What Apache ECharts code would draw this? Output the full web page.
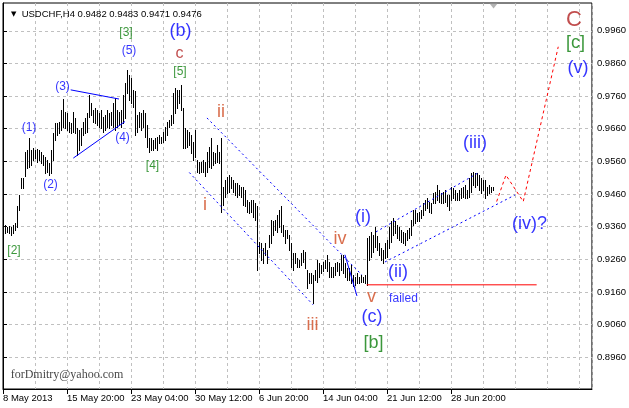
<!DOCTYPE html>
<html><head><meta charset="utf-8">
<script src="https://cdn.jsdelivr.net/npm/echarts@6/dist/echarts.min.js"></script>
<style>html,body{margin:0;padding:0;background:#fff}#c{width:629px;height:408px}</style>
</head><body><div id="c"></div>
<script>
// ---- data ----
const symbolName = 'USDCHF,H4';
const lastOHLC = ['0.9482', '0.9483', '0.9471', '0.9476'];

const highs = [
0.9365,0.9360,0.9363,0.9358,0.9365,0.9371,0.9422,0.9457,0.9508,0.9508,
0.9590,0.9595,0.9631,0.9595,0.9600,0.9595,0.9597,0.9595,0.9590,0.9580,
0.9574,0.9564,0.9554,0.9595,0.9646,0.9677,0.9677,0.9682,0.9717,0.9750,
0.9712,0.9707,0.9682,0.9677,0.9712,0.9692,0.9661,0.9656,0.9661,0.9682,
0.9692,0.9707,0.9763,0.9738,0.9717,0.9723,0.9717,0.9707,0.9717,0.9697,
0.9702,0.9717,0.9707,0.9712,0.9738,0.9753,0.9717,0.9712,0.9717,0.9763,
0.9799,0.9840,0.9825,0.9815,0.9779,0.9774,0.9702,0.9712,0.9707,0.9717,
0.9707,0.9671,0.9631,0.9631,0.9626,0.9631,0.9636,0.9641,0.9636,0.9651,
0.9666,0.9682,0.9687,0.9702,0.9769,0.9784,0.9779,0.9779,0.9794,0.9723,
0.9661,0.9656,0.9651,0.9641,0.9620,0.9656,0.9564,0.9559,0.9559,0.9564,
0.9559,0.9590,0.9605,0.9631,0.9590,0.9585,0.9610,0.9590,0.9631,0.9483,
0.9503,0.9513,0.9518,0.9513,0.9503,0.9493,0.9493,0.9488,0.9483,0.9483,
0.9473,0.9442,0.9437,0.9442,0.9442,0.9432,0.9422,0.9314,0.9309,0.9294,
0.9309,0.9289,0.9335,0.9381,0.9376,0.9381,0.9396,0.9411,0.9422,0.9365,
0.9350,0.9350,0.9335,0.9309,0.9279,0.9279,0.9263,0.9258,0.9279,0.9289,
0.9284,0.9228,0.9218,0.9218,0.9212,0.9228,0.9258,0.9248,0.9243,0.9253,
0.9258,0.9274,0.9253,0.9238,0.9238,0.9248,0.9253,0.9248,0.9274,0.9274,
0.9248,0.9233,0.9233,0.9243,0.9212,0.9207,0.9218,0.9207,0.9212,0.9207,0.9212,
0.9324,0.9330,0.9345,0.9335,0.9360,0.9330,0.9309,0.9294,0.9289,0.9309,
0.9319,0.9360,0.9376,0.9386,0.9376,0.9365,0.9360,0.9350,0.9345,0.9340,
0.9350,0.9355,0.9381,0.9411,0.9411,0.9401,0.9406,0.9411,0.9432,0.9442,
0.9447,0.9437,0.9432,0.9462,0.9467,0.9488,0.9473,0.9462,0.9467,0.9473,
0.9457,0.9457,0.9483,0.9478,0.9473,0.9462,0.9473,0.9478,0.9483,0.9488,
0.9473,0.9508,0.9524,0.9529,0.9524,0.9524,0.9518,0.9508,0.9503,0.9503,0.9483,0.9488,0.9483,0.9483
];
const lows = [
0.9340,0.9345,0.9340,0.9335,0.9340,0.9350,0.9360,0.9411,0.9478,0.9478,
0.9514,0.9539,0.9544,0.9549,0.9564,0.9569,0.9559,0.9564,0.9554,0.9549,
0.9524,0.9529,0.9518,0.9524,0.9564,0.9626,0.9641,0.9646,0.9656,0.9666,
0.9661,0.9656,0.9651,0.9646,0.9651,0.9646,0.9580,0.9595,0.9610,0.9641,
0.9646,0.9651,0.9697,0.9702,0.9682,0.9677,0.9671,0.9666,0.9661,0.9651,
0.9656,0.9666,0.9661,0.9671,0.9666,0.9656,0.9666,0.9671,0.9666,0.9677,
0.9692,0.9769,0.9748,0.9738,0.9728,0.9641,0.9651,0.9666,0.9656,0.9666,
0.9636,0.9605,0.9590,0.9595,0.9595,0.9600,0.9595,0.9615,0.9615,0.9620,
0.9626,0.9641,0.9666,0.9671,0.9677,0.9707,0.9723,0.9738,0.9717,0.9600,
0.9600,0.9605,0.9610,0.9585,0.9564,0.9574,0.9529,0.9524,0.9529,0.9529,
0.9514,0.9529,0.9544,0.9539,0.9549,0.9554,0.9559,0.9554,0.9406,0.9427,
0.9452,0.9462,0.9467,0.9478,0.9467,0.9457,0.9452,0.9457,0.9452,0.9427,
0.9422,0.9406,0.9401,0.9406,0.9391,0.9381,0.9228,0.9279,0.9258,0.9248,
0.9274,0.9248,0.9299,0.9309,0.9335,0.9350,0.9345,0.9360,0.9345,0.9330,
0.9309,0.9324,0.9289,0.9238,0.9228,0.9248,0.9238,0.9238,0.9243,0.9253,
0.9233,0.9172,0.9187,0.9187,0.9126,0.9197,0.9192,0.9207,0.9218,0.9223,
0.9233,0.9223,0.9207,0.9207,0.9207,0.9212,0.9223,0.9212,0.9228,0.9218,
0.9207,0.9197,0.9197,0.9187,0.9177,0.9182,0.9187,0.9187,0.9192,0.9192,0.9187,
0.9182,0.9258,0.9268,0.9284,0.9299,0.9289,0.9274,0.9258,0.9248,0.9263,
0.9268,0.9294,0.9314,0.9335,0.9340,0.9324,0.9319,0.9314,0.9309,0.9304,
0.9319,0.9324,0.9335,0.9365,0.9371,0.9376,0.9376,0.9386,0.9396,0.9411,
0.9417,0.9406,0.9401,0.9432,0.9432,0.9442,0.9437,0.9432,0.9432,0.9437,
0.9422,0.9411,0.9442,0.9447,0.9442,0.9442,0.9442,0.9447,0.9452,0.9447,
0.9447,0.9452,0.9467,0.9488,0.9483,0.9488,0.9473,0.9462,0.9473,0.9447,0.9457,0.9462,0.9467,0.9471
];

const dateTicks = [0, 32, 64, 96, 128, 160, 192, 224];
const dateLabels = ['8 May 2013', '15 May 20:00', '23 May 04:00', '30 May 12:00', '6 Jun 20:00', '14 Jun 04:00', '21 Jun 12:00', '28 Jun 20:00'];
const priceTicks = [0.8960, 0.9060, 0.9160, 0.9260, 0.9360, 0.9460, 0.9560, 0.9660, 0.9760, 0.9860, 0.9960];

// wave labels: text, anchor bar number, anchor price, style class
const noteText  = ['[2]','(1)','(2)','(3)','(4)','(5)','[3]','[4]','[5]','c','(b)','ii','i','iii','iv','v','(c)','[b]','(i)','(ii)','failed','(iii)','(iv)?','(v)','[c]','C','forDmitry@yahoo.com'];
const noteBar   = [5.5,13,23.75,29.75,59.75,63,61.5,74.75,88.5,88.25,88.75,109,101,154.75,168.5,184.25,184.5,185.25,180,197.5,200.25,236,263.25,287.5,286.25,285.5,32];
const notePrice = [0.9286,0.9662,0.9488,0.9789,0.9632,0.9899,0.9953,0.9546,0.9835,0.9890,0.9959,0.9711,0.9425,0.9059,0.9321,0.9144,0.9084,0.9004,0.9390,0.9222,0.9139,0.9615,0.9367,0.9846,0.9922,0.9993,0.8907];
const noteKind  = ['g','b','b','b','b','b','g','g','g','r','B','o','o','o','o','o','B','G','B','B','f','B','B','B','G','R','e'];

// trend / channel lines (bar number, price)
const lineThreeFive  = [[33.85, 0.9779], [58, 0.9751]];
const lineTwoFour    = [[35.15, 0.9570], [61, 0.9682]];
const chanDownUpper  = [[102, 0.9693], [179.5, 0.9212]];
const chanDownLower  = [[93.15, 0.9526], [155, 0.9121]];
const wedgeV         = [[171, 0.9274], [177, 0.9148]];
const chanUpUpper    = [[186.5, 0.9344], [238.5, 0.9528]];
const chanUpLower    = [[191, 0.9252], [256, 0.9457]];
const forecastPath   = [[246.85, 0.9437], [251.5, 0.9518], [260.15, 0.9437], [277.65, 0.9911]];
const failedLevel    = [[181.85, 0.9182], [266.85, 0.9182]];
const shiftMarker    = [[245.3, 1.0036]];

// ---- chart ----
const styles = {
  b: {color: '#0000ff', fontSize: 12},
  B: {color: '#0000ff', fontSize: 18},
  f: {color: '#0000ff', fontSize: 12},
  g: {color: '#0a7d0a', fontSize: 12},
  G: {color: '#0a7d0a', fontSize: 18},
  r: {color: '#b22222', fontSize: 16},
  R: {color: '#b22222', fontSize: 22},
  o: {color: '#d04a20', fontSize: 18},
  e: {color: '#111111', fontSize: 12, fontFamily: 'Liberation Serif'}
};
const FONT = 'Liberation Sans';

const barData = highs.map((h, i) => [i + 1, lows[i], h]);
const noteData = noteText.map((t, i) => {
  const s = styles[noteKind[i]];
  return {
    value: [noteBar[i], notePrice[i]],
    label: {show: true, position: 'inside', formatter: t, color: s.color, fontSize: s.fontSize,
            fontFamily: s.fontFamily || FONT, align: 'center', verticalAlign: 'middle'}
  };
});

function seg(data, color, type, width) {
  return {type: 'line', data: data, symbol: 'none', silent: true, animation: false, z: 3,
          lineStyle: {color: color, width: width || 1, type: type}};
}

const chart = echarts.init(document.getElementById('c'), null, {renderer: 'canvas'});
chart.setOption({
  animation: false,
  backgroundColor: '#ffffff',
  title: {
    text: '{t|▼}  ' + symbolName + ' ' + lastOHLC.join(' '),
    left: 6, top: 4,
    textStyle: {fontSize: 9.5, fontWeight: 'normal', fontFamily: FONT, color: '#000',
      rich: {t: {fontSize: 7, color: '#000', fontFamily: 'DejaVu Sans'}}}
  },
  grid: {left: 3, top: 3, width: 589, height: 386, show: true, borderColor: '#000', borderWidth: 1, backgroundColor: 'transparent'},
  xAxis: [
    {type: 'value', min: 0, max: 294.5, position: 'bottom',
     axisLine: {show: true, lineStyle: {color: '#000', width: 1}},
     axisTick: {show: true, length: 5, customValues: dateTicks, lineStyle: {color: '#000'}},
     axisLabel: {show: true, customValues: dateTicks, align: 'left', margin: 4, color: '#000', fontSize: 9.5, fontFamily: FONT,
                 formatter: v => { const k = dateTicks.indexOf(Math.round(v)); return k >= 0 ? dateLabels[k] : ''; }},
     splitLine: {show: false}},
    {type: 'value', min: 0, max: 294.5, interval: 16, position: 'bottom',
     axisLine: {show: false}, axisTick: {show: false}, axisLabel: {show: false},
     splitLine: {show: true, lineStyle: {color: '#c0c0c0', type: [3, 3], width: 1}}}
  ],
  yAxis: {
    type: 'value', position: 'right', min: 0.8863, max: 1.0045, scale: true,
    axisLine: {show: true, lineStyle: {color: '#000'}},
    axisTick: {show: true, length: 4, customValues: priceTicks, lineStyle: {color: '#000'}},
    axisLabel: {show: true, customValues: priceTicks, margin: 5, color: '#000', fontSize: 9.5, fontFamily: FONT,
                formatter: v => v.toFixed(4)},
    splitLine: {show: true, lineStyle: {color: '#c0c0c0', type: [3, 3], width: 1}}
  },
  series: [
    {type: 'custom', data: barData, silent: true, clip: true, z: 2,
     renderItem: function (params, api) {
       const x = api.value(0);
       const lo = api.coord([x, api.value(1)]);
       const hi = api.coord([x, api.value(2)]);
       const px = Math.round(lo[0]) + 0.5;
       return {type: 'line', shape: {x1: px, y1: Math.round(hi[1]), x2: px, y2: Math.round(lo[1]) + 1},
               style: {stroke: '#000', lineWidth: 1}};
     }},
    seg(lineThreeFive, '#0000ff', 'solid'),
    seg(lineTwoFour, '#0000ff', 'solid'),
    seg(chanDownUpper, '#0000ff', [2, 3]),
    seg(chanDownLower, '#0000ff', [2, 3]),
    seg(wedgeV, '#0000ff', 'solid'),
    seg(chanUpUpper, '#0000ff', [2, 3]),
    seg(chanUpLower, '#0000ff', [2, 3]),
    seg(forecastPath, '#ff0000', [3, 3]),
    seg(failedLevel, '#ff0000', 'solid'),
    {type: 'scatter', data: shiftMarker, symbol: 'triangle', symbolRotate: 180, symbolSize: [8, 5],
     itemStyle: {color: '#a0a0a0'}, silent: true, z: 4},
    {type: 'scatter', data: noteData, symbolSize: 0, silent: true, z: 5}
  ]
});
</script>
</body></html>
